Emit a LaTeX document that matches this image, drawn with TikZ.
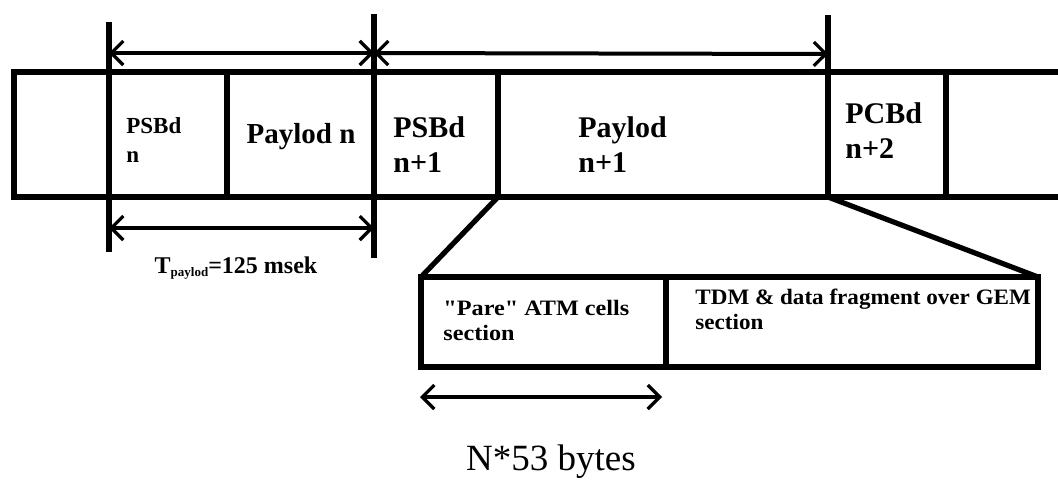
\documentclass[tikz,border=0pt]{standalone}
\usepackage{fontspec}
\setmainfont{Liberation Serif}[Ligatures=TeXOff]
\usetikzlibrary{arrows.meta}

\begin{document}
\begin{tikzpicture}[x=0.5pt, y=-0.5pt,
        bar/.style = {line width=2.6pt},
        dim/.style = {line width=2pt, {Straight Barb[length=6pt,width=12pt,line width=1.6pt]}-{Straight Barb[length=6pt,width=12pt,line width=1.6pt]}},
        lbl/.style = {anchor=west, inner sep=0pt, align=left, font=\bfseries}]
        \useasboundingbox (0, 0) rectangle (1058, 483);
        % frame strip
        \draw[bar] (1058, 72) -- (14, 72) -- (14, 197) -- (1058, 197);
        \draw[bar] (109, 22) -- (109, 252);
        \draw[bar] (227, 72) -- (227, 197);
        \draw[bar] (374, 14) -- (374, 258);
        \draw[bar] (498, 72) -- (498, 197);
        \draw[bar] (828, 15) -- (828, 197);
        \draw[bar] (946, 72) -- (946, 197);
        \draw[dim] (109, 53) -- (374, 53);
        \draw[dim] (374, 53) -- (828, 54);
        \draw[dim] (109, 228) -- (374, 228);
        % payload detail
        \draw[bar] (421, 277) rectangle (1038, 367);
        \draw[bar] (666, 277) -- (666, 367);
        \draw[bar] (498, 197) -- (421, 277);
        \draw[bar] (828, 197) -- (1038, 277);
        \draw[dim] (420, 397) -- (662, 397);
        \node[lbl, font=\bfseries\fontsize{11.5}{14.5}\selectfont] (psbdn) at (126, 140) {PSBd\\ n};
        \node[font=\bfseries\fontsize{14.5}{17}\selectfont, inner sep=0pt] (payn) at (301, 137) {Paylod n};
        \node[lbl, font=\bfseries\fontsize{15}{17.5}\selectfont] (psbdnn) at (393, 145) {PSBd\\ n+1};
        \node[lbl, font=\bfseries\fontsize{15}{17.5}\selectfont] (paynn) at (578, 145) {Paylod\\ n+1};
        \node[lbl, font=\bfseries\fontsize{15}{17.5}\selectfont] (pcbd) at (845, 131) {PCBd\\ n+2};
        \node[font=\bfseries\fontsize{12}{14}\selectfont, inner sep=0pt] (tpay) at (236, 268) {T\raisebox{-0.2ex}{\fontsize{6.5}{7}\selectfont paylod}=125 msek};
        \node[lbl, font=\bfseries\fontsize{11}{12.5}\selectfont, xscale=1.1] (atm) at (443, 320) {"Pare" ATM cells\\ section};
        \node[lbl, font=\bfseries\fontsize{11}{12.5}\selectfont, xscale=1.05] (tdm) at (695, 309) {TDM \& data fragment over GEM\\ section};
        \node[font=\fontsize{18.5}{20}\selectfont, inner sep=0pt] (bytes) at (551, 462) {N*53 bytes};
    \end{tikzpicture}
\end{document}
